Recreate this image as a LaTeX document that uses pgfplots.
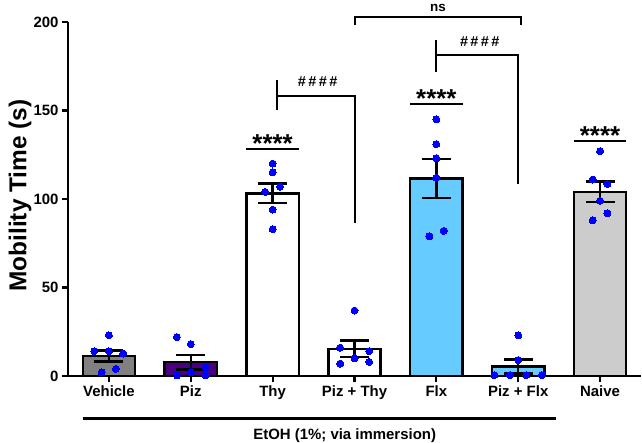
\documentclass[border=0pt]{standalone}
\usepackage{pgfplots}
\pgfplotsset{compat=1.18}
\usepackage{fontspec}
\setmainfont{Liberation Sans}
\definecolor{vehgray}{RGB}{128,128,128}
\definecolor{pizpurple}{RGB}{75,0,130}
\definecolor{flxblue}{RGB}{102,204,255}
\definecolor{naivegray}{RGB}{204,204,204}
\definecolor{dotblue}{RGB}{0,0,255}
\pgfplotsset{
  mybar/.style={ybar, bar shift=0pt, draw=black, line width=2.4bp,
    error bars/y dir=both, error bars/y explicit,
    error bars/error bar style={line width=2.4bp, black},
    error bars/error mark options={rotate=90, mark size=14.5bp, line width=2.4bp, black}},
  mydots/.style={only marks, mark=*, mark size=3.5bp, color=dotblue,
    mark options={fill=dotblue, draw=dotblue, line width=0pt}},
}
\begin{document}
\begin{tikzpicture}
\begin{axis}[
  width=573bp, height=354bp, scale only axis,
  xmin=-0.5, xmax=6.5, ymin=0, ymax=200,
  axis x line*=bottom, axis y line*=left,
  axis line style={line width=2.4bp, black},
  xtick={0,...,6},
  xticklabels={Vehicle,Piz,Thy,Piz + Thy,Flx,Piz + Flx,Naive},
  ytick={0,50,100,150,200},
  tick align=outside,
  major tick length=6bp,
  tick style={line width=2.2bp, black},
  ticklabel style={font=\bfseries\fontsize{15}{15}\selectfont},
  /pgf/number format/assume math mode=true,
  ylabel={Mobility Time (s)},
  ylabel style={font=\bfseries\fontsize{24.5}{24.5}\selectfont, at={(axis description cs:-0.0838,0.51)}, anchor=center},
  clip=false,
  bar width=0.64,
]
\coordinate (bl) at (rel axis cs:0,0);
\coordinate (tr) at (rel axis cs:1,1);

\addplot[fill=vehgray, mybar] coordinates {(0,11.3) +- (0,3.0)};
\addplot[fill=pizpurple, mybar] coordinates {(1,7.8) +- (0,4.2)};
\addplot[fill=white, mybar] coordinates {(2,103.2) +- (0,5.6)};
\addplot[fill=white, mybar] coordinates {(3,15.3) +- (0,4.7)};
\addplot[fill=flxblue, mybar] coordinates {(4,111.5) +- (0,11.0)};
\addplot[fill=flxblue, mybar] coordinates {(5,5.4) +- (0,4.0)};
\addplot[fill=naivegray, mybar] coordinates {(6,104.0) +- (0,5.8)};

% individual data points
\addplot[mydots] coordinates {
 (0,23) (-0.18,14) (0,14) (0.175,12.7) (0.085,4) (-0.09,2)
 (0.83,22) (1,18) (1.18,5) (1,2) (0.83,0.3) (1.18,0.3)
 (2,120) (2,115) (2.09,107) (1.91,104) (2,94) (2,83)
 (3,37) (2.825,16) (3.18,14) (3,10) (2.825,7) (3.18,8)
 (4,145) (4,131) (4,123) (4,112) (4.09,82) (3.915,79)
 (5,23) (5,9) (4.71,0.5) (4.9,0.5) (5.1,0.5) (5.29,0.5)
 (6,127) (5.91,111) (6.09,108.5) (6,99) (6.09,92) (5.91,88)
};

% significance marks
\draw[line width=2bp] (axis cs:1.68,128) -- (axis cs:2.32,128);
\node[anchor=base, inner sep=0pt, font=\bfseries\fontsize{26}{26}\selectfont] at (axis cs:2,126.2) {****};
\draw[line width=2bp] (axis cs:3.68,153.6) -- (axis cs:4.32,153.6);
\node[anchor=base, inner sep=0pt, font=\bfseries\fontsize{26}{26}\selectfont] at (axis cs:4,151.8) {****};
\draw[line width=2bp] (axis cs:5.68,132.6) -- (axis cs:6.32,132.6);
\node[anchor=base, inner sep=0pt, font=\bfseries\fontsize{26}{26}\selectfont] at (axis cs:6,130.8) {****};

% #### Thy vs Piz+Thy
\draw[line width=2bp] (axis cs:2.05,150) -- (axis cs:2.05,167.3);
\draw[line width=2bp] (axis cs:2.05,158.3) -- (axis cs:3,158.3) -- (axis cs:3,86.2);
\node[anchor=base, inner sep=0pt, font=\bfseries\fontsize{14.5}{14.5}\selectfont] at (axis cs:2.55,163.5) {\#\,\#\,\#\,\#};

% #### Flx vs Piz+Flx
\draw[line width=2bp] (axis cs:4,172) -- (axis cs:4,189.7);
\draw[line width=2bp] (axis cs:4,181.2) -- (axis cs:5,181.2) -- (axis cs:5,108.6);
\node[anchor=base, inner sep=0pt, font=\bfseries\fontsize{14.5}{14.5}\selectfont] at (axis cs:4.53,186.4) {\#\,\#\,\#\,\#};

% ns bracket
\draw[line width=2bp] (axis cs:3,198.3) -- (axis cs:3,203) -- (axis cs:5.03,203) -- (axis cs:5.03,198.3);
\node[anchor=base, inner sep=0pt, font=\bfseries\fontsize{13.5}{13.5}\selectfont] at (axis cs:4.02,206.2) {ns};

% EtOH line
\draw[line width=2.2bp] (axis cs:-0.32,-24) -- (axis cs:5.46,-24);
\node[font=\bfseries\fontsize{15}{15}\selectfont] at (axis cs:2.88,-33.5) {EtOH (1\%; via immersion)};
\end{axis}
\pgfresetboundingbox
\path ([shift={(-68bp,-67bp)}]bl) rectangle ([shift={(1bp,22bp)}]tr);
\end{tikzpicture}
\end{document}
